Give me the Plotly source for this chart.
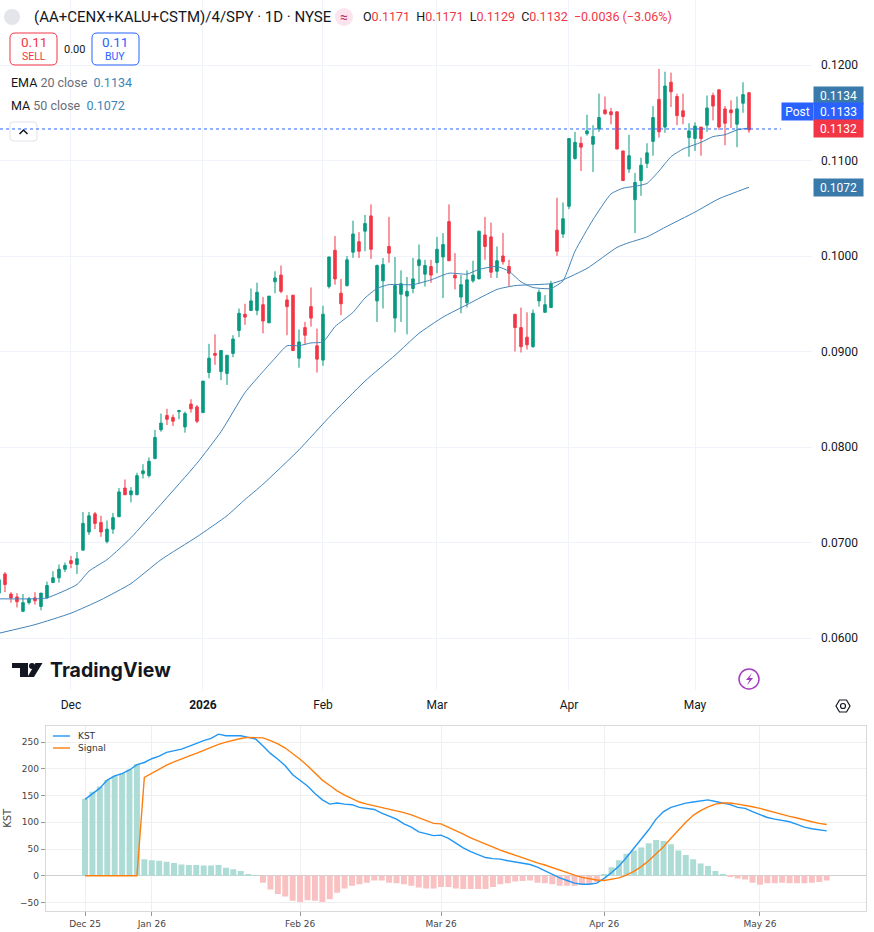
import pandas as pd
import plotly.graph_objects as go

W, H = 874, 932

UP = "#089981"
DOWN = "#F23645"
DARK = "#131722"
GRID = "#f0f3fa"
MA_BLUE = "#4283b8"
TAG_BLUE = "#3a7aaa"
LAST_BLUE = "#2962FF"

# NYSE trading days shown on the chart
holidays = ["2025-11-27", "2025-12-25", "2026-01-01", "2026-01-19", "2026-02-16", "2026-04-03"]
dates = pd.bdate_range("2025-11-12", "2026-05-14")
dates = dates[~dates.isin(pd.to_datetime(holidays))]

opens = [0.0647, 0.0667, 0.0646, 0.0643, 0.0628, 0.0637, 0.0642, 0.0633, 0.0642, 0.0658,
         0.0663, 0.0672, 0.0681, 0.0677, 0.0692, 0.0711, 0.0730, 0.0721, 0.0701, 0.0714,
         0.0727, 0.0757, 0.0750, 0.0750, 0.0772, 0.0770, 0.0788, 0.0818, 0.0833, 0.0831,
         0.0837, 0.0821, 0.0845, 0.0842, 0.0836, 0.0878, 0.0898, 0.0879, 0.0877, 0.0898,
         0.0922, 0.0939, 0.0943, 0.0943, 0.0949, 0.0930, 0.0973, 0.0980, 0.0954, 0.0959,
         0.0893, 0.0925, 0.0947, 0.0906, 0.0891, 0.0968, 0.1006, 0.0961, 0.0969, 0.1004,
         0.1015, 0.1026, 0.1042, 0.0953, 0.0974, 0.1010, 0.0935, 0.0960, 0.0958, 0.0966,
         0.0990, 0.0981, 0.0989, 0.0993, 0.0999, 0.1036, 0.0980, 0.0957, 0.0951, 0.0974,
         0.0976, 0.1022, 0.1020, 0.0984, 0.1000, 0.0989, 0.0939, 0.0925, 0.0915, 0.0905,
         0.0953, 0.0941, 0.0946, 0.1027, 0.1023, 0.1052, 0.1102, 0.1118, 0.1128, 0.1117,
         0.1133, 0.1153, 0.1151, 0.1151, 0.1110, 0.1091, 0.1059, 0.1079, 0.1097, 0.1120,
         0.1164, 0.1135, 0.1182, 0.1167, 0.1152, 0.1124, 0.1123, 0.1135, 0.1137, 0.1168,
         0.1174, 0.1154, 0.1153, 0.1138, 0.1160, 0.1171]
highs = [0.0664, 0.0669, 0.0648, 0.0647, 0.0646, 0.0643, 0.0648, 0.0647, 0.0659, 0.0670,
         0.0677, 0.0679, 0.0686, 0.0690, 0.0732, 0.0732, 0.0732, 0.0728, 0.0723, 0.0731,
         0.0757, 0.0766, 0.0758, 0.0773, 0.0782, 0.0789, 0.0818, 0.0835, 0.0840, 0.0834,
         0.0839, 0.0837, 0.0850, 0.0844, 0.0869, 0.0908, 0.0918, 0.0901, 0.0896, 0.0917,
         0.0945, 0.0950, 0.0966, 0.0972, 0.0957, 0.0958, 0.0984, 0.0990, 0.0959, 0.0959,
         0.0923, 0.0931, 0.0967, 0.0924, 0.0948, 0.0999, 0.1021, 0.0976, 0.1000, 0.1037,
         0.1025, 0.1043, 0.1054, 0.0991, 0.0998, 0.1041, 0.0999, 0.0985, 0.0978, 0.0998,
         0.1012, 0.0996, 0.0996, 0.1020, 0.1024, 0.1054, 0.1003, 0.0980, 0.0985, 0.0995,
         0.1026, 0.1041, 0.1035, 0.1010, 0.1024, 0.0996, 0.0939, 0.0946, 0.0941, 0.0944,
         0.0965, 0.0959, 0.0974, 0.1061, 0.1056, 0.1123, 0.1130, 0.1125, 0.1148, 0.1137,
         0.1170, 0.1167, 0.1155, 0.1151, 0.1110, 0.1127, 0.1087, 0.1103, 0.1118, 0.1157,
         0.1196, 0.1193, 0.1192, 0.1170, 0.1170, 0.1139, 0.1140, 0.1135, 0.1168, 0.1171,
         0.1174, 0.1157, 0.1163, 0.1167, 0.1182, 0.1171]
lows = [0.0644, 0.0648, 0.0637, 0.0632, 0.0627, 0.0635, 0.0635, 0.0629, 0.0641, 0.0658,
        0.0658, 0.0669, 0.0673, 0.0667, 0.0692, 0.0708, 0.0714, 0.0706, 0.0699, 0.0709,
        0.0727, 0.0750, 0.0742, 0.0750, 0.0767, 0.0768, 0.0787, 0.0816, 0.0823, 0.0822,
        0.0829, 0.0815, 0.0836, 0.0825, 0.0836, 0.0872, 0.0886, 0.0870, 0.0865, 0.0894,
        0.0915, 0.0928, 0.0943, 0.0938, 0.0919, 0.0930, 0.0961, 0.0961, 0.0917, 0.0901,
        0.0883, 0.0908, 0.0926, 0.0878, 0.0885, 0.0966, 0.0970, 0.0938, 0.0968, 0.0998,
        0.0998, 0.1005, 0.0997, 0.0931, 0.0945, 0.0993, 0.0920, 0.0931, 0.0918, 0.0961,
        0.0971, 0.0968, 0.0972, 0.0982, 0.0956, 0.0995, 0.0965, 0.0940, 0.0946, 0.0972,
        0.0976, 0.0996, 0.0977, 0.0977, 0.0991, 0.0968, 0.0900, 0.0899, 0.0902, 0.0904,
        0.0947, 0.0941, 0.0946, 0.1000, 0.1019, 0.1049, 0.1101, 0.1089, 0.1126, 0.1088,
        0.1130, 0.1148, 0.1138, 0.1112, 0.1079, 0.1087, 0.1024, 0.1063, 0.1092, 0.1105,
        0.1124, 0.1129, 0.1156, 0.1137, 0.1138, 0.1104, 0.1110, 0.1105, 0.1130, 0.1142,
        0.1132, 0.1116, 0.1134, 0.1114, 0.1150, 0.1129]
closes = [0.0661, 0.0656, 0.0642, 0.0638, 0.0637, 0.0641, 0.0639, 0.0647, 0.0655, 0.0663,
          0.0672, 0.0676, 0.0678, 0.0683, 0.0720, 0.0728, 0.0720, 0.0711, 0.0714, 0.0726,
          0.0753, 0.0750, 0.0754, 0.0770, 0.0775, 0.0785, 0.0810, 0.0825, 0.0829, 0.0827,
          0.0838, 0.0835, 0.0840, 0.0827, 0.0869, 0.0893, 0.0896, 0.0901, 0.0896, 0.0913,
          0.0940, 0.0936, 0.0953, 0.0962, 0.0932, 0.0958, 0.0977, 0.0963, 0.0947, 0.0901,
          0.0910, 0.0917, 0.0935, 0.0892, 0.0939, 0.0999, 0.0976, 0.0950, 0.0996, 0.1023,
          0.1005, 0.1034, 0.1007, 0.0990, 0.0991, 0.1003, 0.0969, 0.0971, 0.0963, 0.0976,
          0.0996, 0.0990, 0.0980, 0.1007, 0.1012, 0.0995, 0.0977, 0.0970, 0.0975, 0.0980,
          0.1026, 0.1010, 0.0983, 0.0995, 0.0994, 0.0982, 0.0925, 0.0905, 0.0907, 0.0940,
          0.0962, 0.0949, 0.0971, 0.1005, 0.1039, 0.1123, 0.1119, 0.1114, 0.1131, 0.1125,
          0.1145, 0.1149, 0.1148, 0.1112, 0.1079, 0.1105, 0.1077, 0.1095, 0.1108, 0.1145,
          0.1130, 0.1178, 0.1172, 0.1147, 0.1146, 0.1131, 0.1136, 0.1123, 0.1155, 0.1157,
          0.1135, 0.1139, 0.1150, 0.1154, 0.1169, 0.1132]

# EMA 20 / MA 50 at these bars
ema_idx = [0, 6, 8, 13, 15, 18, 20, 22, 27, 33, 37, 41, 44, 46, 48, 50, 52, 54, 56, 59,
           61, 63, 65, 69, 72, 75, 78, 80, 83, 85, 87, 89, 92, 94, 96, 99, 102, 104, 106, 108,
           110, 112, 114, 117, 119, 121, 123, 125]
ema_val = [0.0641, 0.0641, 0.0642, 0.0656, 0.0670, 0.0682, 0.0693, 0.0705, 0.0740, 0.0783,
           0.0816, 0.0857, 0.0879, 0.0893, 0.0906, 0.0906, 0.0909, 0.0910, 0.0926, 0.0941,
           0.0956, 0.0966, 0.0970, 0.0970, 0.0975, 0.0982, 0.0981, 0.0986, 0.0989, 0.0984,
           0.0973, 0.0967, 0.0966, 0.0974, 0.1005, 0.1038, 0.1065, 0.1071, 0.1073, 0.1076,
           0.1089, 0.1104, 0.1112, 0.1119, 0.1125, 0.1127, 0.1132, 0.1134]
ma_idx = [0, 6, 12, 17, 22, 27, 33, 38, 41, 44, 50, 55, 61, 66, 70, 74, 78, 83, 86, 92,
          94, 98, 103, 105, 108, 111, 116, 120, 125]
ma_val = [0.0605, 0.0614, 0.0626, 0.0640, 0.0657, 0.0682, 0.0706, 0.0728, 0.0745, 0.0761,
          0.0797, 0.0831, 0.0869, 0.0896, 0.0919, 0.0936, 0.0949, 0.0965, 0.0969, 0.0971,
          0.0975, 0.0987, 0.1009, 0.1014, 0.1020, 0.1030, 0.1046, 0.1060, 0.1072]

price_ticks = [0.06, 0.07, 0.08, 0.09, 0.10, 0.11, 0.12]

# KST panel (daily, from Dec 18)
kst = [143, 153, 164, 179, 187, 191, 198, 208, 212, 219,
       224, 231, 234, 237, 242, 248, 253, 257, 265, 262,
       262, 262, 259, 256, 243, 229, 218, 206, 189, 179,
       168, 154, 142, 134, 136, 134, 133, 128, 126, 124,
       117, 111, 106, 97, 91, 82, 78, 75, 76, 70,
       61, 52, 45, 40, 34, 32, 31, 28, 26, 24,
       21, 16, 9, 2, -4, -9, -14, -16, -16, -14,
       -5, 6, 18, 34, 51, 67, 86, 106, 120, 128,
       132, 136, 138, 140, 142, 139, 136, 133, 128, 126,
       120, 115, 109, 106, 104, 101, 96, 91, 88, 86,
       84]
signal = [0, 0, 0, 0, 0, 0, 0, 0, 184, 192,
          199, 207, 213, 219, 224, 229, 235, 241, 246, 250,
          254, 257, 259, 259, 258, 253, 247, 239, 229, 218,
          206, 192, 179, 169, 159, 151, 144, 138, 134, 131,
          128, 125, 122, 118, 114, 109, 104, 98, 97, 91,
          84, 78, 71, 65, 59, 53, 48, 43, 38, 34,
          29, 24, 20, 15, 11, 6, 1, -3, -6, -8,
          -9, -7, -4, 1, 8, 17, 28, 41, 54, 70,
          86, 100, 113, 122, 129, 134, 136, 136, 134, 132,
          129, 126, 122, 118, 115, 111, 108, 104, 101, 98,
          96]
kst_hist = [144, 157, 167, 179, 187, 192, 199, 209, 31, 29,
            28, 26, 24, 21, 20, 20, 19, 19, 20, 15,
            12, 9, 3, 0.5, -13, -26, -34, -39, -47, -49,
            -46, -47, -49, -44, -32, -24, -19, -16, -13, -9,
            -9, -13, -14, -16, -19, -22, -24, -24, -21, -21,
            -24, -25, -25, -25, -25, -21, -16, -14, -11, -10,
            -9, -13, -14, -16, -19, -19, -19, -16, -16, -12,
            2, 16, 29, 41, 47, 53, 61, 67, 65, 59,
            47, 39, 31, 23, 18, 9, 3, -1, -5, -7,
            -13, -17, -14, -14, -13, -14, -14, -14, -13, -12,
            -9]
kst_ticks_y = [-50, 0, 50, 100, 150, 200, 250]


def month_starts(ds):
    out, seen = [], set()
    for i, d in enumerate(ds):
        if (d.year, d.month) not in seen:
            seen.add((d.year, d.month))
            out.append(i)
    return out


xi = list(range(len(dates)))
main_ticks = [i for i in month_starts(dates) if i > 0]
main_labels = ["<b>%d</b>" % dates[i].year if dates[i].month == 1 else dates[i].strftime("%b")
               for i in main_ticks]

kst_dates = dates[len(dates) - len(kst):]
kx = list(range(len(kst)))
kst_ticks = month_starts(kst_dates)
kst_labels = [kst_dates[i].strftime("%b %y") for i in kst_ticks]


def pp(x, y):
    return "%.5f,%.5f" % (x / W, 1 - y / H)


def poly(points):
    return "M " + " L ".join(pp(x, y) for x, y in points) + " Z"


def rrect(x0, y0, x1, y1, r):
    return ("M %s L %s Q %s %s L %s Q %s %s L %s Q %s %s L %s Q %s %s Z" % (
        pp(x0 + r, y0), pp(x1 - r, y0), pp(x1, y0), pp(x1, y0 + r),
        pp(x1, y1 - r), pp(x1, y1), pp(x1 - r, y1), pp(x0 + r, y1),
        pp(x0, y1), pp(x0, y1 - r), pp(x0, y0 + r), pp(x0, y0), pp(x0 + r, y0)))


def ann(x, y, text, size=12, color=DARK, xanchor="left", family=None, **kw):
    f = dict(size=size, color=color)
    if family:
        f["family"] = family
    return dict(xref="paper", yref="paper", x=x / W, y=1 - y / H, text=text,
                showarrow=False, xanchor=xanchor, yanchor="middle", font=f, **kw)


def pshape(path, line_color=None, fill=None, lw=1):
    return dict(type="path", xref="paper", yref="paper", path=path, layer="above",
                line=dict(color=line_color or "rgba(0,0,0,0)", width=lw if line_color else 0),
                fillcolor=fill or "rgba(0,0,0,0)")


def circ(cx, cy, r, line_color=None, fill=None, lw=1):
    return dict(type="circle", xref="paper", yref="paper", layer="above",
                x0=(cx - r) / W, x1=(cx + r) / W, y0=1 - (cy - r) / H, y1=1 - (cy + r) / H,
                line=dict(color=line_color or "rgba(0,0,0,0)", width=lw if line_color else 0),
                fillcolor=fill or "rgba(0,0,0,0)")


fig = go.Figure()

fig.add_trace(go.Candlestick(
    x=xi, open=opens, high=highs, low=lows, close=closes,
    increasing=dict(line=dict(color=UP, width=1), fillcolor=UP),
    decreasing=dict(line=dict(color=DOWN, width=1), fillcolor=DOWN),
    whiskerwidth=0, showlegend=False, hoverinfo="skip", xaxis="x", yaxis="y"))
fig.add_trace(go.Scatter(x=ema_idx, y=ema_val, mode="lines", line=dict(color=MA_BLUE, width=1, shape="spline", smoothing=0.5),
                         showlegend=False, hoverinfo="skip", xaxis="x", yaxis="y"))
fig.add_trace(go.Scatter(x=ma_idx, y=ma_val, mode="lines", line=dict(color=MA_BLUE, width=1, shape="spline", smoothing=0.5),
                         showlegend=False, hoverinfo="skip", xaxis="x", yaxis="y"))

bar_colors = ["#acdcd5" if v >= 0 else "#f9c1c1" for v in kst_hist]
fig.add_trace(go.Bar(x=kx, y=kst_hist, width=0.8, marker=dict(color=bar_colors, line=dict(width=0)),
                     showlegend=False, hoverinfo="skip", xaxis="x2", yaxis="y2"))
fig.add_trace(go.Scatter(x=kx, y=kst, mode="lines", line=dict(color="#2196f3", width=1.4),
                         showlegend=False, hoverinfo="skip", xaxis="x2", yaxis="y2"))
fig.add_trace(go.Scatter(x=kx, y=signal, mode="lines", line=dict(color="#ff7f0e", width=1.4),
                         showlegend=False, hoverinfo="skip", xaxis="x2", yaxis="y2"))

last_o, last_h, last_l, last_c = opens[-1], highs[-1], lows[-1], closes[-1]
red = "<span style='color:%s'>%s</span>"
ohlc = ("O" + red % (DOWN, "%.4f" % last_o) + "  H" + red % (DOWN, "%.4f" % last_h) +
        "  L" + red % (DOWN, "%.4f" % last_l) + "  C" + red % (DOWN, "%.4f" % last_c) +
        "  " + red % (DOWN, "−0.0036 (−3.06%)"))

annotations = [
    ann(32, 17, "(AA+CENX+KALU+CSTM)/4/SPY · 1D · NYSE", 15),
    ann(344, 17, "≈", 14, "#b4336a", xanchor="center"),
    ann(361, 17, ohlc, 12.5),
    ann(33.5, 42, "0.11", 13.5, DOWN, xanchor="center"),
    ann(33.5, 57, "SELL", 10.5, DOWN, xanchor="center"),
    ann(74, 49, "0.00", 11, DARK, xanchor="center"),
    ann(115.5, 42, "0.11", 13.5, LAST_BLUE, xanchor="center"),
    ann(115.5, 57, "BUY", 10.5, LAST_BLUE, xanchor="center"),
    ann(9, 82, "EMA <span style='color:#6a6d78'>20 close</span>  "
               "<span style='color:#3d85b8'>%.4f</span>" % ema_val[-1], 12.5),
    ann(9, 106, "MA <span style='color:#6a6d78'>50 close</span>  "
                "<span style='color:#3d85b8'>%.4f</span>" % ma_val[-1], 12.5),
    ann(48, 670, "<b>TradingView</b>", 19.5, DARK, family="Inter"),
    # price scale tags
    ann(813, 96, "%.4f" % ema_val[-1], 12, "white", bgcolor=TAG_BLUE, width=45, height=13, borderpad=2),
    ann(781, 112, "Post", 12, "white", bgcolor=LAST_BLUE, width=27, height=13, borderpad=2),
    ann(813, 112, "0.1133", 12, "white", bgcolor=LAST_BLUE, width=45, height=13, borderpad=2),
    ann(813, 129, "%.4f" % last_c, 12, "white", bgcolor=DOWN, width=45, height=13, borderpad=2),
    ann(813, 187, "%.4f" % ma_val[-1], 12, "white", bgcolor=TAG_BLUE, width=45, height=13, borderpad=2),
    # KST legend
    ann(76, 736, "KST", 9, "#333333", family="DejaVu Sans"),
    ann(76, 748, "Signal", 9, "#333333", family="DejaVu Sans"),
]

shapes = [
    circ(12, 17, 8, fill="#e3e5ea"),
    circ(344, 17, 9, fill="#fce4ee"),
    pshape(rrect(10, 33, 57, 65, 5), DOWN, "white"),
    pshape(rrect(92, 33, 139, 65, 5), LAST_BLUE, "white"),
    pshape(rrect(10, 122, 37, 141, 3), "#e0e3eb", "white"),
    pshape("M %s L %s L %s" % (pp(19.5, 134), pp(23.5, 130), pp(27.5, 134)), DARK, None, 1.5),
    # last price line
    dict(type="line", xref="paper", yref="y", x0=0, x1=781 / W, y0=0.1133, y1=0.1133,
         line=dict(color=LAST_BLUE, width=1, dash="dot"), layer="above"),
    # TradingView logo mark
    pshape(poly([(12, 663), (28, 663), (28, 677), (20, 677), (20, 668), (12, 668)]), None, DARK),
    circ(32, 666, 3, fill=DARK),
    pshape(poly([(35.5, 663), (42.5, 663), (34, 677), (27.5, 677)]), None, DARK),
    # lightning and settings icons
    circ(749, 679, 10, "#a43ec0", None, 1.5),
    pshape(poly([(752, 673), (746, 680), (749.5, 680), (747, 685.5), (753, 678), (749.5, 678)]), None, "#a43ec0"),
    pshape(poly([(836, 706), (839.5, 700), (846.5, 700), (850, 706), (846.5, 712), (839.5, 712)]), DARK, None, 1.2),
    circ(843, 706, 2.5, DARK, None, 1.2),
    # KST legend lines
    dict(type="line", xref="paper", yref="paper", x0=53 / W, x1=70 / W, y0=1 - 736 / H, y1=1 - 736 / H,
         line=dict(color="#2196f3", width=1.4)),
    dict(type="line", xref="paper", yref="paper", x0=53 / W, x1=70 / W, y0=1 - 748 / H, y1=1 - 748 / H,
         line=dict(color="#ff7f0e", width=1.4)),
]

kst_font = dict(family="DejaVu Sans", size=9, color="#444444")

fig.update_layout(
    width=W, height=H, margin=dict(l=0, r=0, t=0, b=0),
    paper_bgcolor="white", plot_bgcolor="white",
    font=dict(family="Roboto, 'Noto Sans', sans-serif", color=DARK),
    showlegend=False, boxgap=0.4, hovermode=False,
    xaxis=dict(domain=[0, 812 / W], range=[0.17, 135.5], tickvals=main_ticks, ticktext=main_labels,
               showgrid=True, gridcolor=GRID, zeroline=False, showline=False, ticks="",
               tickfont=dict(size=12), ticklabelstandoff=6, rangeslider=dict(visible=False),
               fixedrange=True),
    yaxis=dict(domain=[1 - 690 / H, 1], range=[0.054555, 0.126806], side="right",
               tickvals=price_ticks, tickformat=".4f", showgrid=True, gridcolor=GRID,
               zeroline=False, showline=False, ticks="", ticklabelstandoff=8,
               tickfont=dict(size=12), fixedrange=True),
    xaxis2=dict(domain=[45.7 / W, 866 / W], anchor="y2", range=[-5.3, 105.3],
                tickvals=kst_ticks, ticktext=kst_labels, showgrid=True, gridcolor="#efefef",
                zeroline=False, showline=True, mirror=True, linecolor="#d9d9d9",
                ticks="outside", ticklen=4, tickcolor="#999999", tickfont=kst_font,
                fixedrange=True),
    yaxis2=dict(domain=[1 - 910.7 / H, 1 - 726 / H], anchor="x2", range=[-65.5, 280.3],
                tickvals=kst_ticks_y, showgrid=True, gridcolor="#efefef",
                zeroline=True, zerolinecolor="#cfcfcf", zerolinewidth=1,
                showline=True, mirror=True, linecolor="#d9d9d9",
                ticks="outside", ticklen=4, tickcolor="#999999", tickfont=kst_font,
                title=dict(text="KST", font=dict(family="DejaVu Sans", size=10, color="#444444"), standoff=6),
                fixedrange=True),
    annotations=annotations,
    shapes=shapes,
)

# page body has a default 8px margin; drop it so the figure sits at the window origin
fig.write_html("out.html", config={"displayModeBar": False},
               post_script="document.body.style.margin='0px';")
